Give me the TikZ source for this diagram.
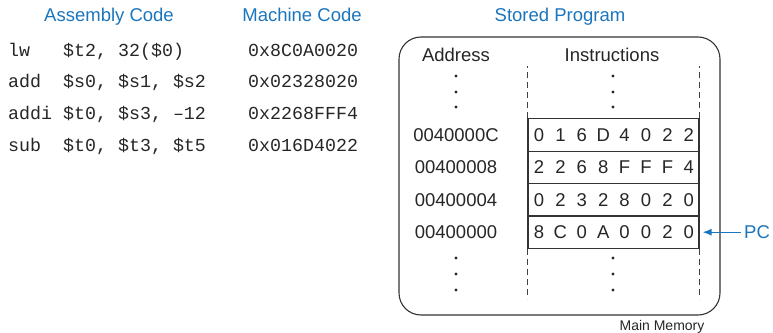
\documentclass[tikz,border=0pt]{standalone}
\usepackage{fontspec}
\setmainfont{Liberation Sans}
\setmonofont{Liberation Mono}
\usetikzlibrary{arrows.meta}
\definecolor{hdblue}{RGB}{27,117,188}

\begin{document}
\begin{tikzpicture}[x=1pt,y=-1pt,>={Latex[length=9pt,width=7pt]},
  hd/.style={text=hdblue,inner sep=0pt,text height=13pt,text depth=0pt,font=\fontsize{18.5}{20}\selectfont},
  lbl/.style={text=black!85,inner sep=0pt,text height=13pt,text depth=0pt,font=\fontsize{18.5}{20}\selectfont},
  code/.style={anchor=west,text=black!85,inner sep=0pt,text height=10pt,text depth=0pt,font=\fontsize{18.3}{20}\ttfamily},
  cell/.style={draw=black!80,line width=1.1pt,minimum width=171pt,minimum height=32.4pt,inner sep=0pt},
  vdash/.style={draw=black!75,line width=1pt,dash pattern=on 6pt off 4pt}]
  \useasboundingbox (0,0) rectangle (773,332);
  \node[hd] (hasm) at (109,15) {Assembly Code};
  \node[hd] (hmc) at (302,15) {Machine Code};
  \node[hd] (hsp) at (560,15) {Stored Program};
  \foreach \op/\args/\mc [count=\i from 0] in {lw/{\$t2, 32(\$0)}/0x8C0A0020,
      add/{\$s0, \$s1, \$s2}/0x02328020,
      addi/{\$t0, \$s3, \textendash12}/0x2268FFF4,
      sub/{\$t0, \$t3, \$t5}/0x016D4022} {
    \node[code] (op\i) at (8,51+31.8*\i) {\op};
    \node[code] (arg\i) at (63,51+31.8*\i) {\args};
    \node[code] (mc\i) at (248,51+31.8*\i) {\mc};
  }
  \draw[black!80,line width=1.1pt,rounded corners=22pt] (399,37) rectangle (720,315);
  \node[lbl] (haddr) at (456,54.5) {Address};
  \node[lbl] (hinstr) at (612,54.5) {Instructions};
  \foreach \addr/\word/\y [count=\i from 0] in {0040000C/{0,1,6,D,4,0,2,2}/135,
      00400008/{2,2,6,8,F,F,F,4}/167.4,
      00400004/{0,2,3,2,8,0,2,0}/199.8,
      00400000/{8,C,0,A,0,0,2,0}/232.2} {
    \node[lbl] (a\i) at (456,\y) {\addr};
    \node[cell] (w\i) at (613.5,\y) {};
    \foreach \d [count=\j from 0] in \word
      \node[lbl] at (539+21.4*\j,\y) {\d};
  }
  \draw[vdash] (w0.north west) -- ++(0,-52);
  \draw[vdash] (w0.north east) -- ++(0,-52);
  \draw[vdash] (w3.south west) -- ++(0,50);
  \draw[vdash] (w3.south east) -- ++(0,50);
  \foreach \y in {76,92,107,258,274,290} {
    \fill[black!85] (456,\y) circle (1.7pt);
    \fill[black!85] (613,\y) circle (1.7pt);
  }
  \node[lbl,text=hdblue,inner xsep=3pt] (pc) at (757,232.2) {PC};
  \draw[->,hdblue,line width=1.3pt,shorten >=3pt] (pc.west) -- (w3.east);
  \node[lbl,text height=10pt,font=\fontsize{14}{16}\selectfont] (mm) at (662,325.5) {Main Memory};
\end{tikzpicture}
\end{document}
